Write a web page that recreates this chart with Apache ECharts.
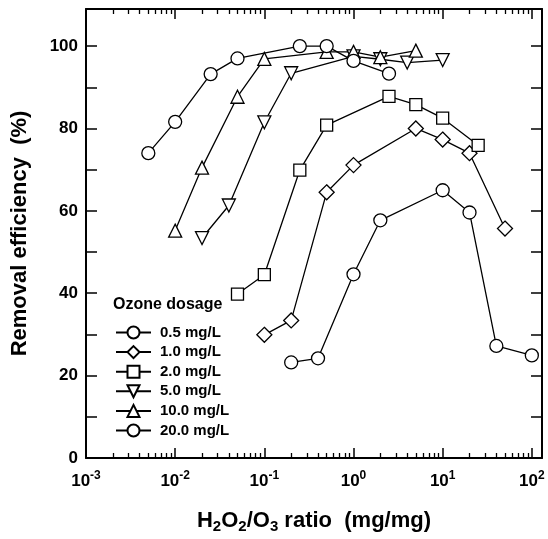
<!DOCTYPE html>
<html>
<head>
<meta charset="utf-8">
<script src="https://cdn.jsdelivr.net/npm/echarts@6/dist/echarts.min.js"></script>
<style>
  html, body { margin: 0; padding: 0; background: #fff; }
  #chart { width: 548px; height: 539px; }
</style>
</head>
<body>
<div id="chart"></div>
<script>
// H2O2/O3 ratio (mg/mg) and removal efficiency (%) per ozone dosage
const ratio05 = [0.2, 0.4, 1, 2, 10, 20, 40, 100]
const eff05 = [23.2, 24.2, 44.6, 57.7, 65.0, 59.6, 27.2, 24.9]

const ratio1 = [0.1, 0.2, 0.5, 1, 5, 10, 20, 50]
const eff1 = [29.9, 33.4, 64.5, 71.1, 80.0, 77.3, 74.0, 55.7]

const ratio2 = [0.05, 0.1, 0.25, 0.5, 2.5, 5, 10, 25]
const eff2 = [39.8, 44.5, 69.9, 80.8, 87.8, 85.8, 82.5, 75.9]

const ratio5 = [0.02, 0.04, 0.1, 0.2, 1, 2, 4, 10]
const eff5 = [53.4, 61.3, 81.5, 93.4, 97.5, 96.8, 96.0, 96.6]

const ratio10 = [0.01, 0.02, 0.05, 0.1, 0.5, 1, 2, 5]
const eff10 = [55.2, 70.5, 87.7, 96.9, 98.6, 98.6, 97.3, 98.9]

const ratio20 = [0.005, 0.01, 0.025, 0.05, 0.25, 0.5, 1, 2.5]
const eff20 = [74.0, 81.6, 93.2, 97.0, 100.0, 100.0, 96.4, 93.3]

const dosageNames = ['0.5 mg/L', '1.0 mg/L', '2.0 mg/L', '5.0 mg/L', '10.0 mg/L', '20.0 mg/L']

// axis ticks
const decades = [-3, -2, -1, 0, 1]
const minorSteps = [2, 3, 4, 5, 6, 7, 8, 9]
const yTickLabels = [0, 20, 40, 60, 80, 100]

const X_MIN = 0.001, X_MAX = 130
const Y_MIN = 0, Y_MAX = 109

const minorTicks = []
decades.forEach(d => minorSteps.forEach(k => minorTicks.push(d + Math.log10(k))))

const font = 'Liberation Sans, Arial, sans-serif'

function pairs(xs, ys) {
    return xs.map((x, i) => [x, ys[i]])
}

function decadeLabel(v) {
    const lg = Math.log10(v)
    const n = Math.round(lg)
    if (Math.abs(lg - n) > 0.01) return ''
    return '{b|10}{s|' + n + '}'
}

function frameLine(show) {
    return { show: show, onZero: false, lineStyle: { color: '#000', width: 2 } }
}

function majorX(position, labels) {
    return {
        type: 'log',
        logBase: 10,
        min: X_MIN,
        max: X_MAX,
        position: position,
        axisLine: frameLine(true),
        axisTick: { show: true, inside: true, length: 10, lineStyle: { color: '#000', width: 1.5 } },
        axisLabel: {
            show: labels,
            margin: 12,
            formatter: decadeLabel,
            rich: {
                b: { fontFamily: font, fontWeight: 'bold', fontSize: 17, color: '#000' },
                s: { fontFamily: font, fontWeight: 'bold', fontSize: 12, color: '#000', padding: [0, 0, 10, 0] }
            }
        },
        splitLine: { show: false },
        name: labels ? '{b|H}{sb|2}{b|O}{sb|2}{b|/O}{sb|3}{b| ratio  (mg/mg)}' : '',
        nameLocation: 'middle',
        nameGap: 50,
        nameTextStyle: {
            rich: {
                b: { fontFamily: font, fontWeight: 'bold', fontSize: 22, color: '#000' },
                sb: { fontFamily: font, fontWeight: 'bold', fontSize: 15, color: '#000', padding: [11, 0, 0, 0] }
            }
        }
    }
}

function minorX(position) {
    return {
        type: 'value',
        min: Math.log10(X_MIN),
        max: Math.log10(X_MAX),
        position: position,
        axisLine: frameLine(false),
        axisTick: { show: true, inside: true, length: 5, customValues: minorTicks, lineStyle: { color: '#000', width: 1.3 } },
        axisLabel: { show: false },
        splitLine: { show: false }
    }
}

function yAxis(position, labels) {
    return {
        type: 'value',
        min: Y_MIN,
        max: Y_MAX,
        interval: 10,
        position: position,
        axisLine: frameLine(true),
        axisTick: { show: true, inside: true, length: 11, lineStyle: { color: '#000', width: 1.5 } },
        axisLabel: {
            show: labels,
            margin: 8,
            fontFamily: font,
            fontWeight: 'bold',
            fontSize: 17,
            color: '#000',
            formatter: v => yTickLabels.indexOf(v) >= 0 ? String(v) : ''
        },
        splitLine: { show: false },
        name: labels ? 'Removal efficiency  (%)' : '',
        nameLocation: 'middle',
        nameGap: 55,
        nameTextStyle: { fontFamily: font, fontWeight: 'bold', fontSize: 22, color: '#000' }
    }
}

const symbols = [
    { symbol: 'circle', size: 13, rotate: 0 },
    { symbol: 'diamond', size: 15, rotate: 0 },
    { symbol: 'rect', size: 12, rotate: 0 },
    { symbol: 'triangle', size: 13, rotate: 180 },
    { symbol: 'triangle', size: 13, rotate: 0 },
    { symbol: 'circle', size: 13, rotate: 0 }
]
const seriesData = [
    pairs(ratio05, eff05),
    pairs(ratio1, eff1),
    pairs(ratio2, eff2),
    pairs(ratio5, eff5),
    pairs(ratio10, eff10),
    pairs(ratio20, eff20)
]

const option = {
    backgroundColor: '#fff',
    animation: false,
    title: {
        text: 'Ozone dosage',
        left: 113,
        top: 297,
        padding: 0,
        textStyle: { fontFamily: font, fontWeight: 'bold', fontSize: 16, color: '#000' }
    },
    legend: {
        orient: 'vertical',
        left: 115,
        top: 325,
        padding: 0,
        itemWidth: 35,
        itemHeight: 15,
        itemGap: 4.6,
        selectedMode: false,
        data: dosageNames,
        textStyle: { fontFamily: font, fontWeight: 'bold', fontSize: 15, color: '#000', padding: [0, 0, 0, 4] }
    },
    grid: { left: 86, right: 6, top: 9, bottom: 77, containLabel: false },
    xAxis: [majorX('bottom', true), minorX('bottom'), majorX('top', false), minorX('top')],
    yAxis: [yAxis('left', true), yAxis('right', false)],
    series: seriesData.map((data, i) => ({
        name: dosageNames[i],
        type: 'line',
        xAxisIndex: 0,
        yAxisIndex: 0,
        data: data,
        symbol: symbols[i].symbol,
        symbolSize: symbols[i].size,
        symbolRotate: symbols[i].rotate,
        showAllSymbol: true,
        lineStyle: { color: '#000', width: 1.3 },
        itemStyle: { color: '#fff', borderColor: '#000', borderWidth: 1.3 },
        emphasis: { disabled: true }
    }))
}

const chart = echarts.init(document.getElementById('chart'), null, { renderer: 'canvas' })
chart.setOption(option)
</script>
</body>
</html>
